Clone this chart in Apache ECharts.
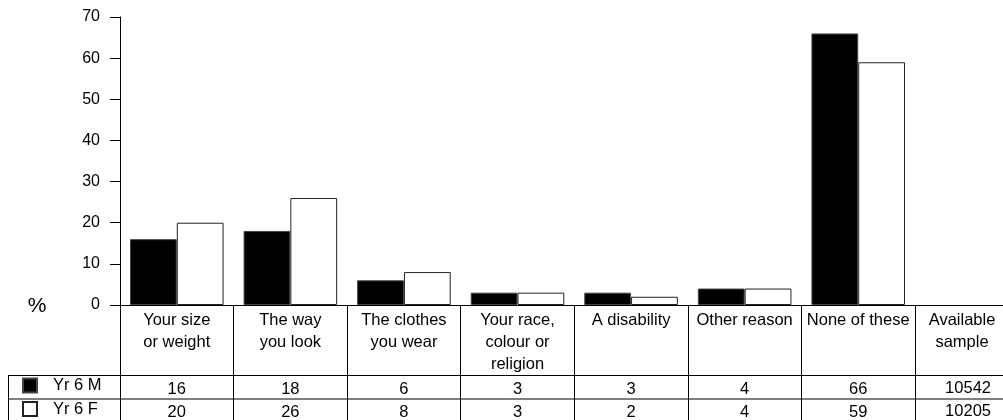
<!DOCTYPE html>
<html>
<head>
<meta charset="utf-8">
<script src="https://cdn.jsdelivr.net/npm/echarts@6/dist/echarts.min.js"></script>
<style>
html,body{margin:0;padding:0;background:#fff;}
#chart{width:1003px;height:420px;}
</style>
</head>
<body>
<div id="chart"></div>
<script>
// ---- data ----
var categories = ['Your size\nor weight', 'The way\nyou look', 'The clothes\nyou wear', 'Your race,\ncolour or\nreligion', 'A disability', 'Other reason', 'None of these'];
var seriesNames = ['Yr 6 M', 'Yr 6 F'];
var yr6M = [16, 18, 6, 3, 3, 4, 66];
var yr6F = [20, 26, 8, 3, 2, 4, 59];
var sampleHeader = 'Available\nsample';
var samples = [10542, 10205];
var yTicks = [0, 10, 20, 30, 40, 50, 60, 70];

// ---- layout ----
var W = 1003, H = 420;
var gLeft = 120, gRight = 915, gTop = 17, gBottom = 305;
var row1 = 375, row2 = 398.5;
var FONT = 'Liberation Sans, Arial, sans-serif';
var FS = 16.5;

var chart = echarts.init(document.getElementById('chart'), null, {renderer: 'canvas'});

function headerLines(s) {
  var lines = s.split('\n');
  while (lines.length < 3) lines.push(' ');
  return lines.join('\n');
}

var option = {
  animation: false,
  backgroundColor: '#fff',
  textStyle: {fontFamily: FONT},
  grid: {
    left: gLeft, right: W - gRight, top: gTop, bottom: H - gBottom,
    containLabel: false, outerBoundsMode: 'none'
  },
  legend: {
    orient: 'vertical',
    left: 22, top: 377, height: 80,
    padding: 0,
    icon: 'rect',
    itemWidth: 14, itemHeight: 14, itemGap: 6.5,
    data: seriesNames,
    textStyle: {fontSize: FS, color: '#000', fontFamily: FONT, padding: [2, 0, 0, 11]},
    selectedMode: false
  },
  xAxis: {
    type: 'category',
    data: categories,
    boundaryGap: true,
    axisLine: {show: true, lineStyle: {color: '#000', width: 1}},
    axisTick: {show: true, length: H - gBottom, interval: 0, lineStyle: {color: '#000', width: 1}},
    axisLabel: {
      interval: 0,
      margin: 4,
      color: '#000',
      fontFamily: FONT,
      fontSize: FS,
      formatter: function (value, idx) {
        return '{h|' + headerLines(value) + '}\n{a|' + yr6M[idx] + '}\n{b|' + yr6F[idx] + '}';
      },
      rich: {
        h: {fontSize: FS, lineHeight: 22, fontFamily: FONT, color: '#000', align: 'center'},
        a: {fontSize: FS, lineHeight: 28, fontFamily: FONT, color: '#000', align: 'center'},
        b: {fontSize: FS, lineHeight: 18, fontFamily: FONT, color: '#000', align: 'center'}
      }
    },
    splitLine: {show: false}
  },
  yAxis: {
    type: 'value',
    min: 0, max: 70, interval: 10,
    axisLine: {show: true, lineStyle: {color: '#000', width: 1}},
    axisTick: {show: true, length: 10, lineStyle: {color: '#000'}},
    axisLabel: {
      color: '#000', fontSize: 16, fontFamily: FONT, margin: 20,
      formatter: function (v) { return yTicks.indexOf(v) >= 0 ? String(v) : ''; }
    },
    splitLine: {show: false}
  },
  series: [
    {
      name: seriesNames[0],
      type: 'bar',
      data: yr6M,
      barGap: '0%',
      barCategoryGap: '17.6%',
      itemStyle: {color: '#000', borderColor: '#444', borderWidth: 1}
    },
    {
      name: seriesNames[1],
      type: 'bar',
      data: yr6F,
      itemStyle: {color: '#fff', borderColor: '#222', borderWidth: 1}
    }
  ],
  graphic: [
    {type: 'line', shape: {x1: gRight, y1: gBottom + 0.5, x2: W, y2: gBottom + 0.5}, style: {stroke: '#000', lineWidth: 1}, silent: true},
    {type: 'line', shape: {x1: 8, y1: row1 + 0.5, x2: W, y2: row1 + 0.5}, style: {stroke: '#000', lineWidth: 1}, silent: true},
    {type: 'line', shape: {x1: 8, y1: row2 + 0.5, x2: W, y2: row2 + 0.5}, style: {stroke: '#000', lineWidth: 1}, silent: true},
    {type: 'line', shape: {x1: 8.5, y1: row1, x2: 8.5, y2: H}, style: {stroke: '#000', lineWidth: 1}, silent: true},
    {type: 'text', x: 37, y: 306, style: {text: '%', font: '21px ' + FONT, fill: '#000', align: 'center', verticalAlign: 'middle'}, silent: true},
    {type: 'text', x: 962, y: 309, style: {text: sampleHeader, font: FS + 'px ' + FONT, lineHeight: 22, fill: '#000', align: 'center', verticalAlign: 'top'}, silent: true},
    {type: 'text', x: 991, y: 388, style: {text: String(samples[0]), font: FS + 'px ' + FONT, fill: '#000', align: 'right', verticalAlign: 'middle'}, silent: true},
    {type: 'text', x: 991, y: 411, style: {text: String(samples[1]), font: FS + 'px ' + FONT, fill: '#000', align: 'right', verticalAlign: 'middle'}, silent: true}
  ]
};
chart.setOption(option);
</script>
</body>
</html>
